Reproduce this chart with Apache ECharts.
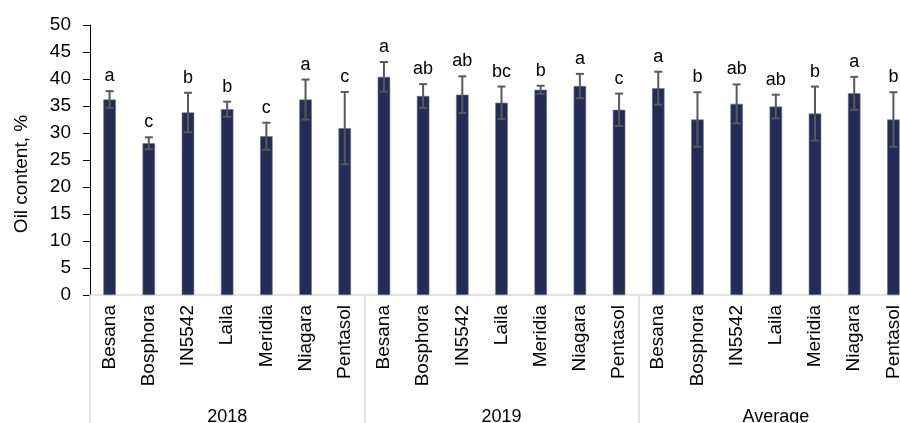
<!DOCTYPE html>
<html>
<head>
<meta charset="utf-8">
<script src="https://cdn.jsdelivr.net/npm/echarts@6/dist/echarts.min.js"></script>
<style>
html,body{margin:0;padding:0;background:#fff;}
#chart{width:900px;height:423px;}
</style>
</head>
<body>
<div id="chart"></div>
<script>
const cultivars = ['Besana','Bosphora','IN5542','Laila','Meridia','Niagara','Pentasol'];
const groups = ['2018','2019','Average'];
const yTicks = [0,5,10,15,20,25,30,35,40,45,50];

const oil2018 = [36.2, 28.1, 33.8, 34.4, 29.4, 36.2, 30.9];
const err2018 = [1.55, 1.1, 3.65, 1.4, 2.5, 3.7, 6.7];
const let2018 = ['a','c','b','b','c','a','c'];

const oil2019 = [40.4, 36.85, 37.1, 35.6, 38.0, 38.7, 34.3];
const err2019 = [2.75, 2.2, 3.4, 3.0, 0.75, 2.25, 3.0];
const let2019 = ['a','ab','ab','bc','b','a','c'];

const oilAvg = [38.3, 32.5, 35.4, 34.9, 33.6, 37.35, 32.5];
const errAvg = [3.05, 5.05, 3.6, 2.2, 5.0, 3.05, 5.05];
const letAvg = ['a','b','ab','ab','b','a','b'];

const categories = cultivars.concat(cultivars, cultivars);
const means = oil2018.concat(oil2019, oilAvg);
const errs = err2018.concat(err2019, errAvg);
const letters = let2018.concat(let2019, letAvg);

const FONT = '"Liberation Sans", Arial, sans-serif';

const errData = means.map((m, i) => [i, m, errs[i]]);

function renderErr(params, api) {
  const i = api.value(0), m = api.value(1), e = api.value(2);
  const top = api.coord([i, m + e]);
  const bot = api.coord([i, m - e]);
  const x = top[0];
  const cap = 4;
  const st = {stroke: '#595959', lineWidth: 2};
  return {
    type: 'group',
    children: [
      {type: 'line', shape: {x1: x, y1: top[1], x2: x, y2: bot[1]}, style: st},
      {type: 'line', shape: {x1: x - cap, y1: top[1], x2: x + cap, y2: top[1]}, style: st},
      {type: 'line', shape: {x1: x - cap, y1: bot[1], x2: x + cap, y2: bot[1]}, style: st},
      {type: 'text', x: x, y: top[1] - 15, style: {
        text: letters[params.dataIndex], fill: '#000', fontSize: 18, fontFamily: FONT,
        align: 'center', verticalAlign: 'middle'
      }}
    ]
  };
}

const chart = echarts.init(document.getElementById('chart'), null, {renderer: 'canvas'});
chart.setOption({
  animation: false,
  backgroundColor: '#fff',
  grid: {left: 90, right: -13, top: 25, bottom: 128, containLabel: false, outerBoundsMode: 'none'},
  xAxis: [
    {
      type: 'category',
      data: categories,
      position: 'bottom',
      axisLine: {show: false},
      axisTick: {show: false},
      axisLabel: {rotate: 90, margin: 10, color: '#000', fontSize: 19, fontFamily: FONT, interval: 0}
    },
    {
      type: 'category',
      data: groups,
      position: 'bottom',
      offset: 0,
      axisLine: {show: true, onZero: false, lineStyle: {color: '#d9d9d9', width: 1.5}},
      axisTick: {show: true, length: 130, lineStyle: {color: '#d9d9d9', width: 1.5}},
      axisLabel: {margin: 113, color: '#000', fontSize: 18, fontFamily: FONT, interval: 0}
    }
  ],
  yAxis: {
    type: 'value',
    min: 0, max: 50, interval: 5,
    name: 'Oil content, %',
    nameLocation: 'middle',
    nameGap: 59,
    nameRotate: 90,
    nameTextStyle: {color: '#000', fontSize: 19, fontFamily: FONT, padding: [0, 28, 0, 0]},
    axisLine: {show: true, lineStyle: {color: '#000', width: 1}},
    axisTick: {show: true, length: 7, lineStyle: {color: '#000', width: 1}},
    splitLine: {show: false},
    axisLabel: {
      margin: 19, color: '#000', fontSize: 19, fontFamily: FONT,
      formatter: v => (yTicks.indexOf(v) >= 0 ? String(v) : '')
    }
  },
  series: [
    {
      type: 'bar',
      xAxisIndex: 0,
      data: means,
      barWidth: 12.5,
      itemStyle: {color: '#222c57', borderColor: '#6f7592', borderWidth: 0.6},
      z: 2
    },
    {
      type: 'custom',
      xAxisIndex: 0,
      data: errData,
      renderItem: renderErr,
      clip: false,
      z: 5
    }
  ]
});
</script>
</body>
</html>
